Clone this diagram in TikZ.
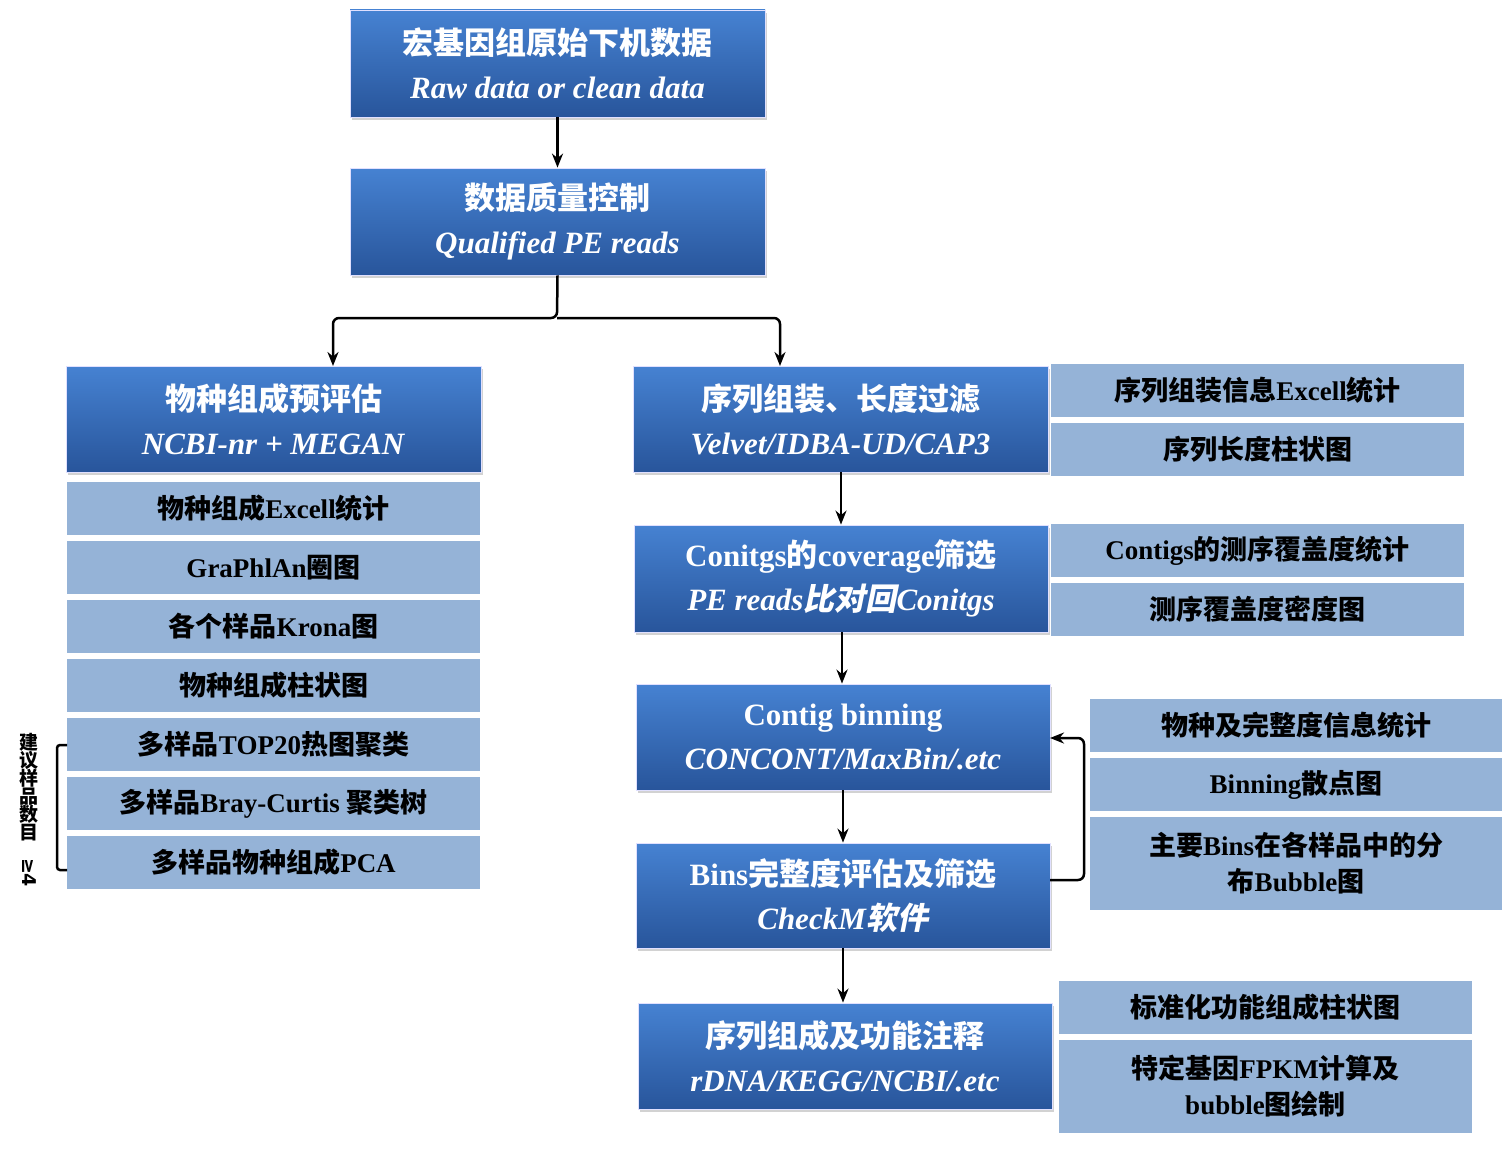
\documentclass[tikz,border=0pt]{standalone}
\usepackage{fontspec}
\setmainfont{Liberation Serif}
\newfontfamily\cjk{Noto Sans CJK SC}
\newfontfamily\cjki[FakeSlant=0.2]{Noto Sans CJK SC}
\newfontfamily\dv{DejaVu Sans}
\newcommand\zh[1]{{\cjk #1}}
\newcommand\zhi[1]{{\cjki #1}}
\usetikzlibrary{shadows,arrows.meta}
\begin{document}
\begin{tikzpicture}[x=1pt,y=-1pt,
  dk/.style={draw=white!70!blue!40,line width=0.8pt,top color=blue!45!cyan!60!black!60!white,bottom color=blue!60!black!75,
    drop shadow={shadow xshift=2pt,shadow yshift=-3pt,opacity=0.35},
    text=white,font=\fontsize{30}{38}\selectfont\bfseries,align=center,inner sep=0pt},
  lt/.style={fill=blue!25!cyan!20!gray!60,text=black,font=\fontsize{27}{32}\selectfont\bfseries,align=center,inner sep=0pt},
  ar/.style={line width=2.5pt,-{Stealth[length=14pt,width=11pt]},rounded corners=6pt}]
\useasboundingbox (0,0) rectangle (1503,1148);
\fill[white] (0,0) rectangle (1503,1148);
\tikzset{dkc/.style={top color={rgb,255:red,70;green,130;blue,210},bottom color={rgb,255:red,40;green,85;blue,155}},
 ltc/.style={fill={rgb,255:red,149;green,179;blue,215}}}
\def\bx#1#2#3#4#5#6#7{\node[#1,#7,minimum width={#4-#2},minimum height={#5-#3}] (#6) at ({(#2+#4)/2},{(#3+#5)/2}) {};}
% dark boxes
\bx{dk}{350}{10}{765}{117}{d1}{dkc}
\bx{dk}{350}{168}{765}{275}{d2}{dkc}
\bx{dk}{66}{366}{481}{472}{d3}{dkc}
\bx{dk}{633}{366}{1048}{472}{d4}{dkc}
\bx{dk}{634}{525}{1048}{632}{d5}{dkc}
\bx{dk}{636}{684}{1050}{790}{d6}{dkc}
\bx{dk}{636}{843}{1050}{948}{d7}{dkc}
\bx{dk}{638}{1003}{1052}{1109}{d8}{dkc}
\tikzset{dt/.style={text=white,font=\fontsize{31}{44}\selectfont\bfseries,align=center}}
\node[dt] at (d1) {\zh{宏基因组原始下机数据}\\\textit{Raw data or clean data}};
\node[dt] at (d2) {\zh{数据质量控制}\\\textit{Qualified PE reads}};
\node[dt] at (d3) {\zh{物种组成预评估}\\\textit{NCBI-nr + MEGAN}};
\node[dt] at (d4) {\zh{序列组装、长度过滤}\\\textit{Velvet/IDBA-UD/CAP3}};
\node[dt] at (d5) {Conitgs\zh{的}coverage\zh{筛选}\\\textit{PE reads}\zhi{比对回}\textit{Conitgs}};
\node[dt] at (d6) {Contig binning\\\textit{CONCONT/MaxBin/.etc}};
\node[dt] at (d7) {Bins\zh{完整度评估及筛选}\\\textit{CheckM}\zhi{软件}};
\node[dt] at (d8) {\zh{序列组成及功能注释}\\\textit{rDNA/KEGG/NCBI/.etc}};
% light boxes
\bx{lt}{67}{482}{480}{535}{l1}{ltc}
\bx{lt}{67}{541}{480}{594}{l2}{ltc}
\bx{lt}{67}{600}{480}{653}{l3}{ltc}
\bx{lt}{67}{659}{480}{712}{l4}{ltc}
\bx{lt}{67}{718}{480}{771}{l5}{ltc}
\bx{lt}{67}{777}{480}{830}{l6}{ltc}
\bx{lt}{67}{836}{480}{889}{l7}{ltc}
\bx{lt}{1051}{364}{1464}{417}{r1}{ltc}
\bx{lt}{1051}{423}{1464}{476}{r2}{ltc}
\bx{lt}{1051}{524}{1464}{577}{r3}{ltc}
\bx{lt}{1051}{583}{1464}{636}{r4}{ltc}
\bx{lt}{1090}{699}{1502}{752}{r5}{ltc}
\bx{lt}{1090}{758}{1502}{811}{r6}{ltc}
\bx{lt}{1090}{817}{1502}{910}{r7}{ltc}
\bx{lt}{1059}{981}{1472}{1034}{r8}{ltc}
\bx{lt}{1059}{1040}{1472}{1133}{r9}{ltc}
\tikzset{tt/.style={text=black,font=\fontsize{27}{36}\selectfont\bfseries,align=center}}
\node[tt] at (l1) {\zh{物种组成}Excell\zh{统计}};
\node[tt] at (l2) {GraPhlAn\zh{圈图}};
\node[tt] at (l3) {\zh{各个样品}Krona\zh{图}};
\node[tt] at (l4) {\zh{物种组成柱状图}};
\node[tt] at (l5) {\zh{多样品}TOP20\zh{热图聚类}};
\node[tt] at (l6) {\zh{多样品}Bray-Curtis \zh{聚类树}};
\node[tt] at (l7) {\zh{多样品物种组成}PCA};
\node[tt] at (r1) {\zh{序列组装信息}Excell\zh{统计}};
\node[tt] at (r2) {\zh{序列长度柱状图}};
\node[tt] at (r3) {Contigs\zh{的测序覆盖度统计}};
\node[tt] at (r4) {\zh{测序覆盖度密度图}};
\node[tt] at (r5) {\zh{物种及完整度信息统计}};
\node[tt] at (r6) {Binning\zh{散点图}};
\node[tt] at (r7) {\zh{主要}Bins\zh{在各样品中的分}\\\zh{布}Bubble\zh{图}};
\node[tt] at (r8) {\zh{标准化功能组成柱状图}};
\node[tt] at (r9) {\zh{特定基因}FPKM\zh{计算及}\\bubble\zh{图绘制}};
% arrows
\draw[ar] (d1.south) -- (d2.north);
\coordinate (j) at (557,318);
\draw[ar] (d2.south) -- (j) -| (333,366);
\draw[ar] (j) -| (780,366);
\draw[ar] (d4.south -| 841,0) -- (d5.north -| 841,0);
\draw[ar] (d5.south -| 842,0) -- (d6.north -| 842,0);
\draw[ar] (d6.south -| 843,0) -- (d7.north -| 843,0);
\draw[ar] (d7.south -| 843,0) -- (d8.north -| 843,0);
\coordinate (fb1) at (1050,880);
\coordinate (fb2) at (1050,738);
\draw[ar] (fb1) -- (1084,880) -- (1084,738) -- (fb2);
% bracket
\draw[line width=2.5pt,rounded corners=3pt] (67,745) -- (57,745) -- (57,870) -- (67,870);
\node[font=\fontsize{19}{19}\selectfont\bfseries,align=center,inner sep=0pt] (note) at (29,810) {\zh{建}\\[-1pt]\zh{议}\\[-1pt]\zh{样}\\[-1pt]\zh{品}\\[-1pt]\zh{数}\\[-1pt]\zh{目}\\\rotatebox{-90}{\dv ≥4}};
\end{tikzpicture}
\end{document}
